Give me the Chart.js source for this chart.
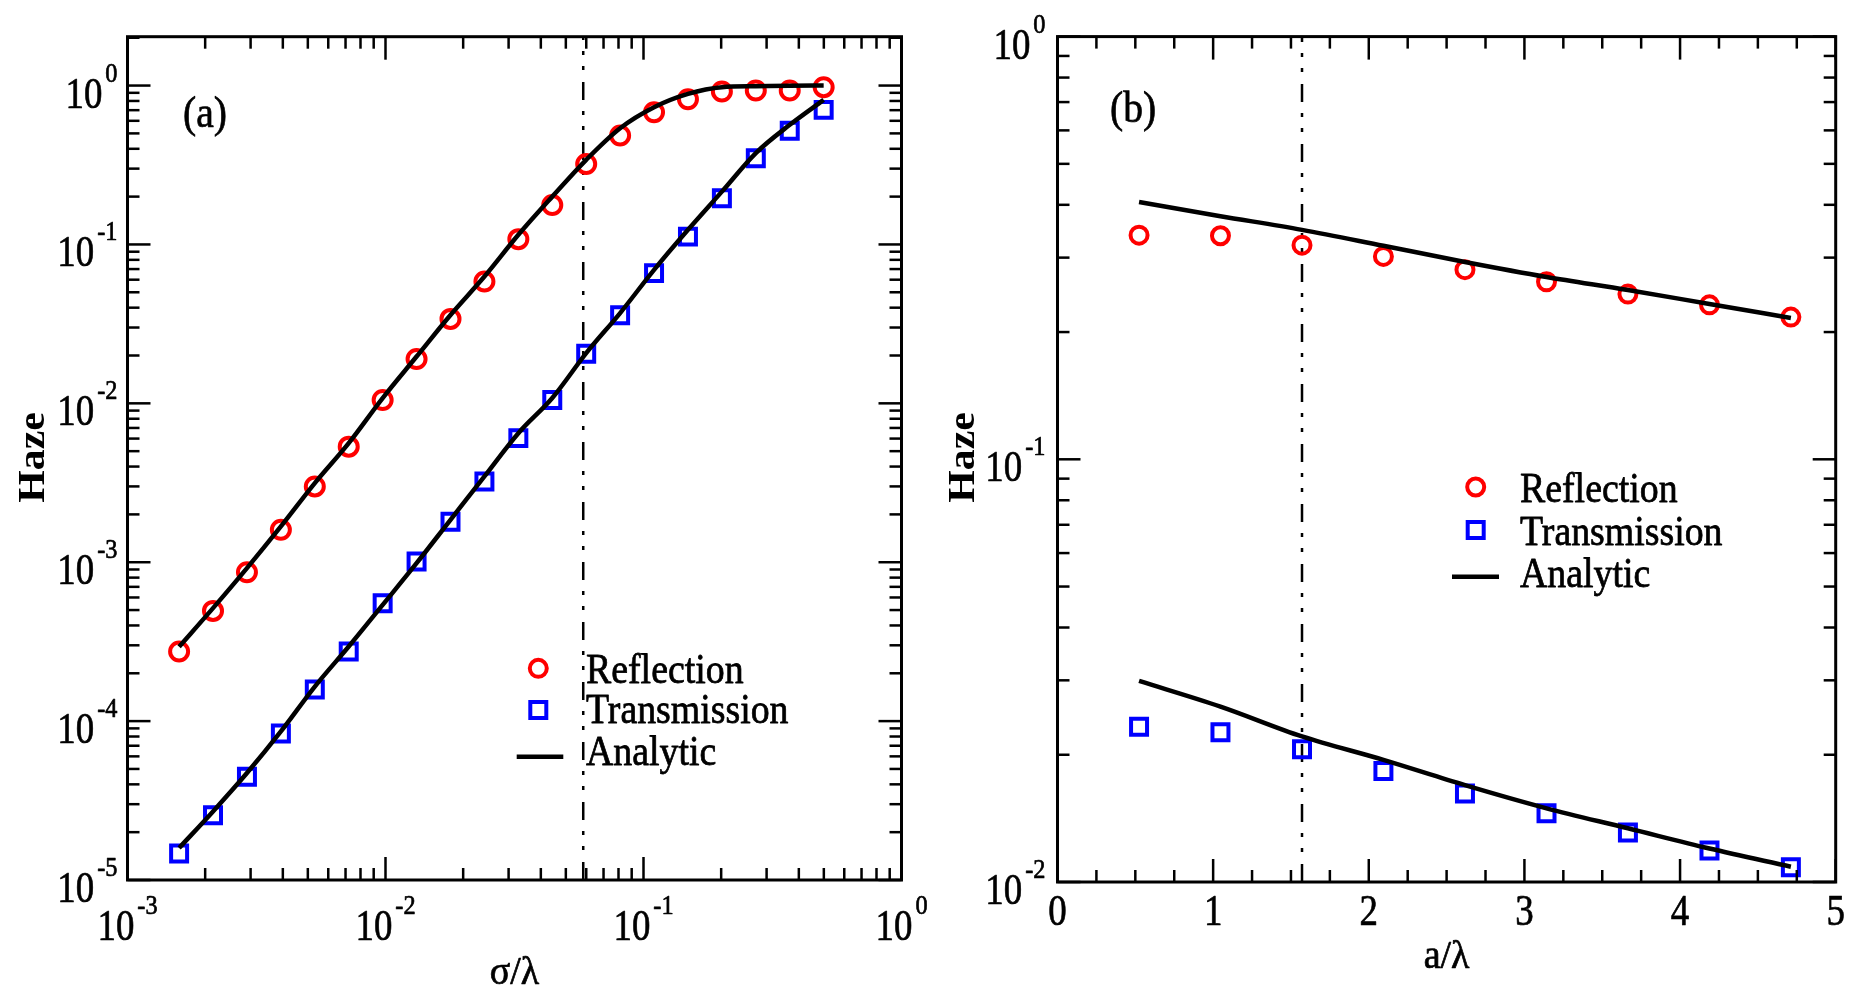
<!DOCTYPE html>
<html><head><meta charset="utf-8">
<script src="https://cdn.jsdelivr.net/npm/chart.js@4.4.1/dist/chart.umd.min.js"></script>
<style>
html,body{margin:0;padding:0;background:#fff;width:1851px;height:989px;overflow:hidden}
canvas{position:absolute;top:0}
#ca{left:0}
#cb{left:930px}
</style></head><body>
<canvas id="ca" width="930" height="989" style="width:930px;height:989px"></canvas>
<canvas id="cb" width="921" height="989" style="width:921px;height:989px"></canvas>
<script>
// ---------- data : panel (a) ----------
const sigmaOverLambda = [0.001585,0.002145,0.002904,0.003931,0.005321,0.007202,0.009749,0.013196,0.017862,0.024178,0.032727,0.044299,0.059963,0.081165,0.10987,0.14871,0.20130,0.27248,0.36883,0.49925];
const reflectionA   = [0.000274,0.000494,0.000865,0.00160,0.00300,0.00534,0.0105,0.0190,0.0340,0.0584,0.108,0.177,0.321,0.485,0.679,0.82,0.917,0.93,0.93,0.977];
const transmissionA = [1.47e-5,2.56e-5,4.46e-5,8.36e-5,1.58e-4,2.74e-4,5.52e-4,1.01e-3,1.80e-3,3.22e-3,6.04e-3,0.0105,0.0205,0.0359,0.066,0.112,0.195,0.349,0.519,0.703];
const analyticReflA  = [2.94e-4,5.14e-4,9.18e-4,1.68e-3,3.15e-3,5.62e-3,0.0108,0.0197,0.0360,0.0628,0.115,0.200,0.341,0.539,0.731,0.887,0.977,0.99,0.998,1.0];
const analyticTransA = [1.59e-5,2.70e-5,4.71e-5,8.61e-5,1.65e-4,2.95e-4,5.39e-4,9.86e-4,1.85e-3,3.47e-3,6.49e-3,0.0108,0.0207,0.0370,0.0692,0.1236,0.215,0.376,0.566,0.813];
const dividerA = 0.0584;
const xTicksA = [0.001,0.01,0.1,1];
const xTickLabelsA = ['10^-3','10^-2','10^-1','10^0'];
const yTicksA = [1e-5,1e-4,1e-3,1e-2,1e-1,1];
const yTickLabelsA = ['10^-5','10^-4','10^-3','10^-2','10^-1','10^0'];

// ---------- data : panel (b) ----------
const aOverLambda = [0.524,1.047,1.571,2.094,2.618,3.142,3.665,4.189,4.712];
const reflectionB   = [0.339,0.338,0.321,0.302,0.281,0.263,0.246,0.232,0.217];
const transmissionB = [0.0233,0.0226,0.0206,0.0183,0.0162,0.01455,0.0131,0.01187,0.01083];
const analyticReflB  = [0.406,0.376,0.349,0.320,0.293,0.270,0.2515,0.233,0.216];
const analyticTransB = [0.0299,0.0260,0.0221,0.01945,0.01695,0.01494,0.0134,0.0120,0.01087];
const dividerB = 1.571;
const xTicksB = [0,1,2,3,4,5];
const xTickLabelsB = ['0','1','2','3','4','5'];
const yTicksB = [0.01,0.1,1];
const yTickLabelsB = ['10^-2','10^-1','10^0'];

const legendLabels = ['Reflection','Transmission','Analytic'];

// ---------- helpers ----------
const SERIF = '"Liberation Serif","Times New Roman",serif';
const RED = '#ff0000', BLUE = '#0000ff';
function pts(xs, ys){ return xs.map((x,i)=>({x:x, y:ys[i]})); }
function setFont(ctx,size,weight){ ctx.font = (weight?weight+' ':'') + size + 'px ' + SERIF; }
function txt(ctx,s,x,y,size,sx,align,sy){
  ctx.save(); setFont(ctx,size); ctx.translate(x,y); ctx.scale(sx,sy||1);
  ctx.textAlign = align||'left'; ctx.textBaseline='alphabetic'; ctx.fillStyle='#000';
  ctx.fillText(s,0,0);
  ctx.strokeStyle='#000'; ctx.lineWidth=0.7; ctx.lineJoin='round';
  ctx.strokeText(s,0,0);
  ctx.restore();
}
function txtW(ctx,s,size,sx){ ctx.save(); setFont(ctx,size); const w = ctx.measureText(s).width*sx; ctx.restore(); return w; }
const MAIN = 45, MSX = 0.82, SUP = 27, SSX = 0.9, SUPOFF = -26, GAP = 3;
function powLabel(ctx,label,ax,baseY,align){
  const parts = label.split('^');
  const base = parts[0], ex = parts[1];
  const wb = txtW(ctx,base,MAIN,MSX);
  const we = ex!==undefined ? GAP + txtW(ctx,ex,SUP,SSX) : 0;
  const W = wb + we;
  const left = align==='right' ? ax - W : ax - W/2;
  txt(ctx,base,left,baseY,MAIN,MSX,'left');
  if (ex!==undefined) txt(ctx,ex,left+wb+GAP,baseY+SUPOFF,SUP,SSX,'left');
}
function logTicks(min,max){
  const out=[];
  for(let e=Math.floor(Math.log10(min)); e<=Math.ceil(Math.log10(max)); e++){
    for(let m=1;m<=9;m++){ const v=m*Math.pow(10,e); if(v>=min*0.9999 && v<=max*1.0001) out.push({v:v,major:m===1}); }
  }
  return out;
}
function linTicks(min,max,step,majorEvery){
  const out=[]; const n=Math.round((max-min)/step);
  for(let i=0;i<=n;i++) out.push({v:min+i*step, major:i%majorEvery===0});
  return out;
}
function seg(ctx,x1,y1,x2,y2){ ctx.beginPath(); ctx.moveTo(x1,y1); ctx.lineTo(x2,y2); ctx.stroke(); }

function framePlugin(cfg){
  return {
    id:'frame'+cfg.id,
    afterDraw(chart){
      const ctx=chart.ctx, a=chart.chartArea, xs=chart.scales.x, ys=chart.scales.y;
      ctx.save();
      ctx.strokeStyle='#000'; ctx.lineWidth=2.5; ctx.lineCap='butt';
      const MJ=23, MN=12;
      cfg.xMinor.forEach(t=>{ const p=xs.getPixelForValue(t.v); const L=t.major?MJ:MN;
        seg(ctx,p,a.bottom,p,a.bottom-L); seg(ctx,p,a.top,p,a.top+L); });
      cfg.yMinor.forEach(t=>{ const p=ys.getPixelForValue(t.v); const L=t.major?MJ:MN;
        seg(ctx,a.left,p,a.left+L,p); seg(ctx,a.right,p,a.right-L,p); });
      ctx.lineWidth=3;
      ctx.strokeRect(a.left,a.top,a.right-a.left,a.bottom-a.top);
      // tick labels
      cfg.xTicks.forEach((v,i)=>{ powLabel(ctx,cfg.xLabels[i],xs.getPixelForValue(v),a.bottom+cfg.xLabOff,'center'); });
      cfg.yTicks.forEach((v,i)=>{ powLabel(ctx,cfg.yLabels[i],a.left-cfg.yLabGap,ys.getPixelForValue(v)+22,'right'); });
      // axis titles
      ctx.save(); setFont(ctx,38,'bold'); ctx.translate(cfg.hazeX,cfg.hazeY); ctx.rotate(-Math.PI/2); ctx.scale(1.1,1);
      ctx.textAlign='center'; ctx.fillStyle='#000'; ctx.fillText('Haze',0,0); ctx.restore();
      txt(ctx,cfg.xTitle,(a.left+a.right)/2,cfg.xTitleY,38,1,'center',1.05);
      txt(ctx,cfg.panel,cfg.panelX,cfg.panelY,44,0.9,'left');
      // legend
      const L=cfg.leg;
      ctx.lineWidth=4; ctx.strokeStyle=RED;
      ctx.beginPath(); ctx.arc(L.sx,L.y1,8.5,0,Math.PI*2); ctx.stroke();
      ctx.strokeStyle=BLUE; ctx.strokeRect(L.sx-8,L.y2-8,16,16);
      ctx.strokeStyle='#000'; ctx.lineWidth=4.5; seg(ctx,L.lx1,L.y3,L.lx2,L.y3);
      txt(ctx,legendLabels[0],L.tx,L.b1,39,0.97,'left',1.08);
      txt(ctx,legendLabels[1],L.tx,L.b2,39,0.97,'left',1.08);
      txt(ctx,legendLabels[2],L.tx,L.b3,39,0.97,'left',1.08);
      ctx.restore();
    }
  };
}

function makeDatasets(xv, refl, trans, aRefl, aTrans, div, yMin, yMax, rCircle){
  const base = {showLine:true, borderColor:'#000', borderWidth:4.5, pointRadius:0, cubicInterpolationMode:'monotone', fill:false};
  return [
    Object.assign({label:'Analytic', data:pts(xv,aRefl), order:0}, base),
    Object.assign({label:'Analytic', data:pts(xv,aTrans), order:0}, base),
    {label:'Reflection', data:pts(xv,refl), showLine:false, pointStyle:'circle', pointRadius:rCircle, pointBorderWidth:4,
      borderColor:RED, pointBorderColor:RED, backgroundColor:'rgba(0,0,0,0)', pointBackgroundColor:'rgba(0,0,0,0)', order:1},
    {label:'Transmission', data:pts(xv,trans), showLine:false, pointStyle:'rect', pointRadius:11.3, pointBorderWidth:4,
      borderColor:BLUE, pointBorderColor:BLUE, backgroundColor:'rgba(0,0,0,0)', pointBackgroundColor:'rgba(0,0,0,0)', order:1},
    {label:'divider', data:[{x:div,y:yMin},{x:div,y:yMax}], showLine:true, borderColor:'#000', borderWidth:2.5,
      borderDash:[18,12,4,11,4,11], pointRadius:0, order:2}
  ];
}

function makeChart(id, cfg){
  return new Chart(document.getElementById(id), {
    type:'scatter',
    data:{datasets: cfg.datasets},
    options:{
      responsive:false, animation:false, devicePixelRatio:1, events:[],
      layout:{padding:cfg.padding},
      plugins:{legend:{display:false}, tooltip:{enabled:false}},
      scales:{
        x:Object.assign({display:false}, cfg.xScale),
        y:Object.assign({display:false}, cfg.yScale)
      },
      clip:false
    },
    plugins:[framePlugin(cfg)]
  });
}

// panel (a)
const yMaxA = 2.03;
makeChart('ca', {
  id:'a',
  datasets: makeDatasets(sigmaOverLambda, reflectionA, transmissionA, analyticReflA, analyticTransA, dividerA, 1e-5, yMaxA, 9),
  padding:{left:127.5, right:28.5, top:36.7, bottom:109},
  xScale:{type:'logarithmic', min:0.001, max:1},
  yScale:{type:'logarithmic', min:1e-5, max:yMaxA},
  xMinor: logTicks(0.001,1), yMinor: logTicks(1e-5,yMaxA),
  xTicks:xTicksA, xLabels:xTickLabelsA, yTicks:yTicksA, yLabels:yTickLabelsA,
  xLabOff:60, yLabGap:10,
  hazeX:43.5, hazeY:457.5, xTitle:'σ/λ', xTitleY:984,
  panel:'(a)', panelX:183, panelY:127,
  leg:{sx:538.3, y1:668.3, y2:710, y3:756.7, lx1:516.7, lx2:563.3, tx:586, b1:682.7, b2:723, b3:765}
});

// panel (b)
makeChart('cb', {
  id:'b',
  datasets: makeDatasets(aOverLambda, reflectionB, transmissionB, analyticReflB, analyticTransB, dividerB, 0.01, 1, 8.5),
  padding:{left:127.5, right:9, top:36.6, bottom:107},
  xScale:{type:'linear', min:0, max:5},
  yScale:{type:'logarithmic', min:0.01, max:1},
  xMinor: linTicks(0,5,0.25,4), yMinor: logTicks(0.01,1),
  xTicks:xTicksB, xLabels:xTickLabelsB, yTicks:yTicksB, yLabels:yTickLabelsB,
  xLabOff:43, yLabGap:12,
  hazeX:43.5, hazeY:457.5, xTitle:'a/λ', xTitleY:968,
  panel:'(b)', panelX:180, panelY:122,
  leg:{sx:545.7, y1:487, y2:530, y3:576.7, lx1:522, lx2:569, tx:590, b1:501.7, b2:545, b3:586.7}
});
</script>
</body></html>
